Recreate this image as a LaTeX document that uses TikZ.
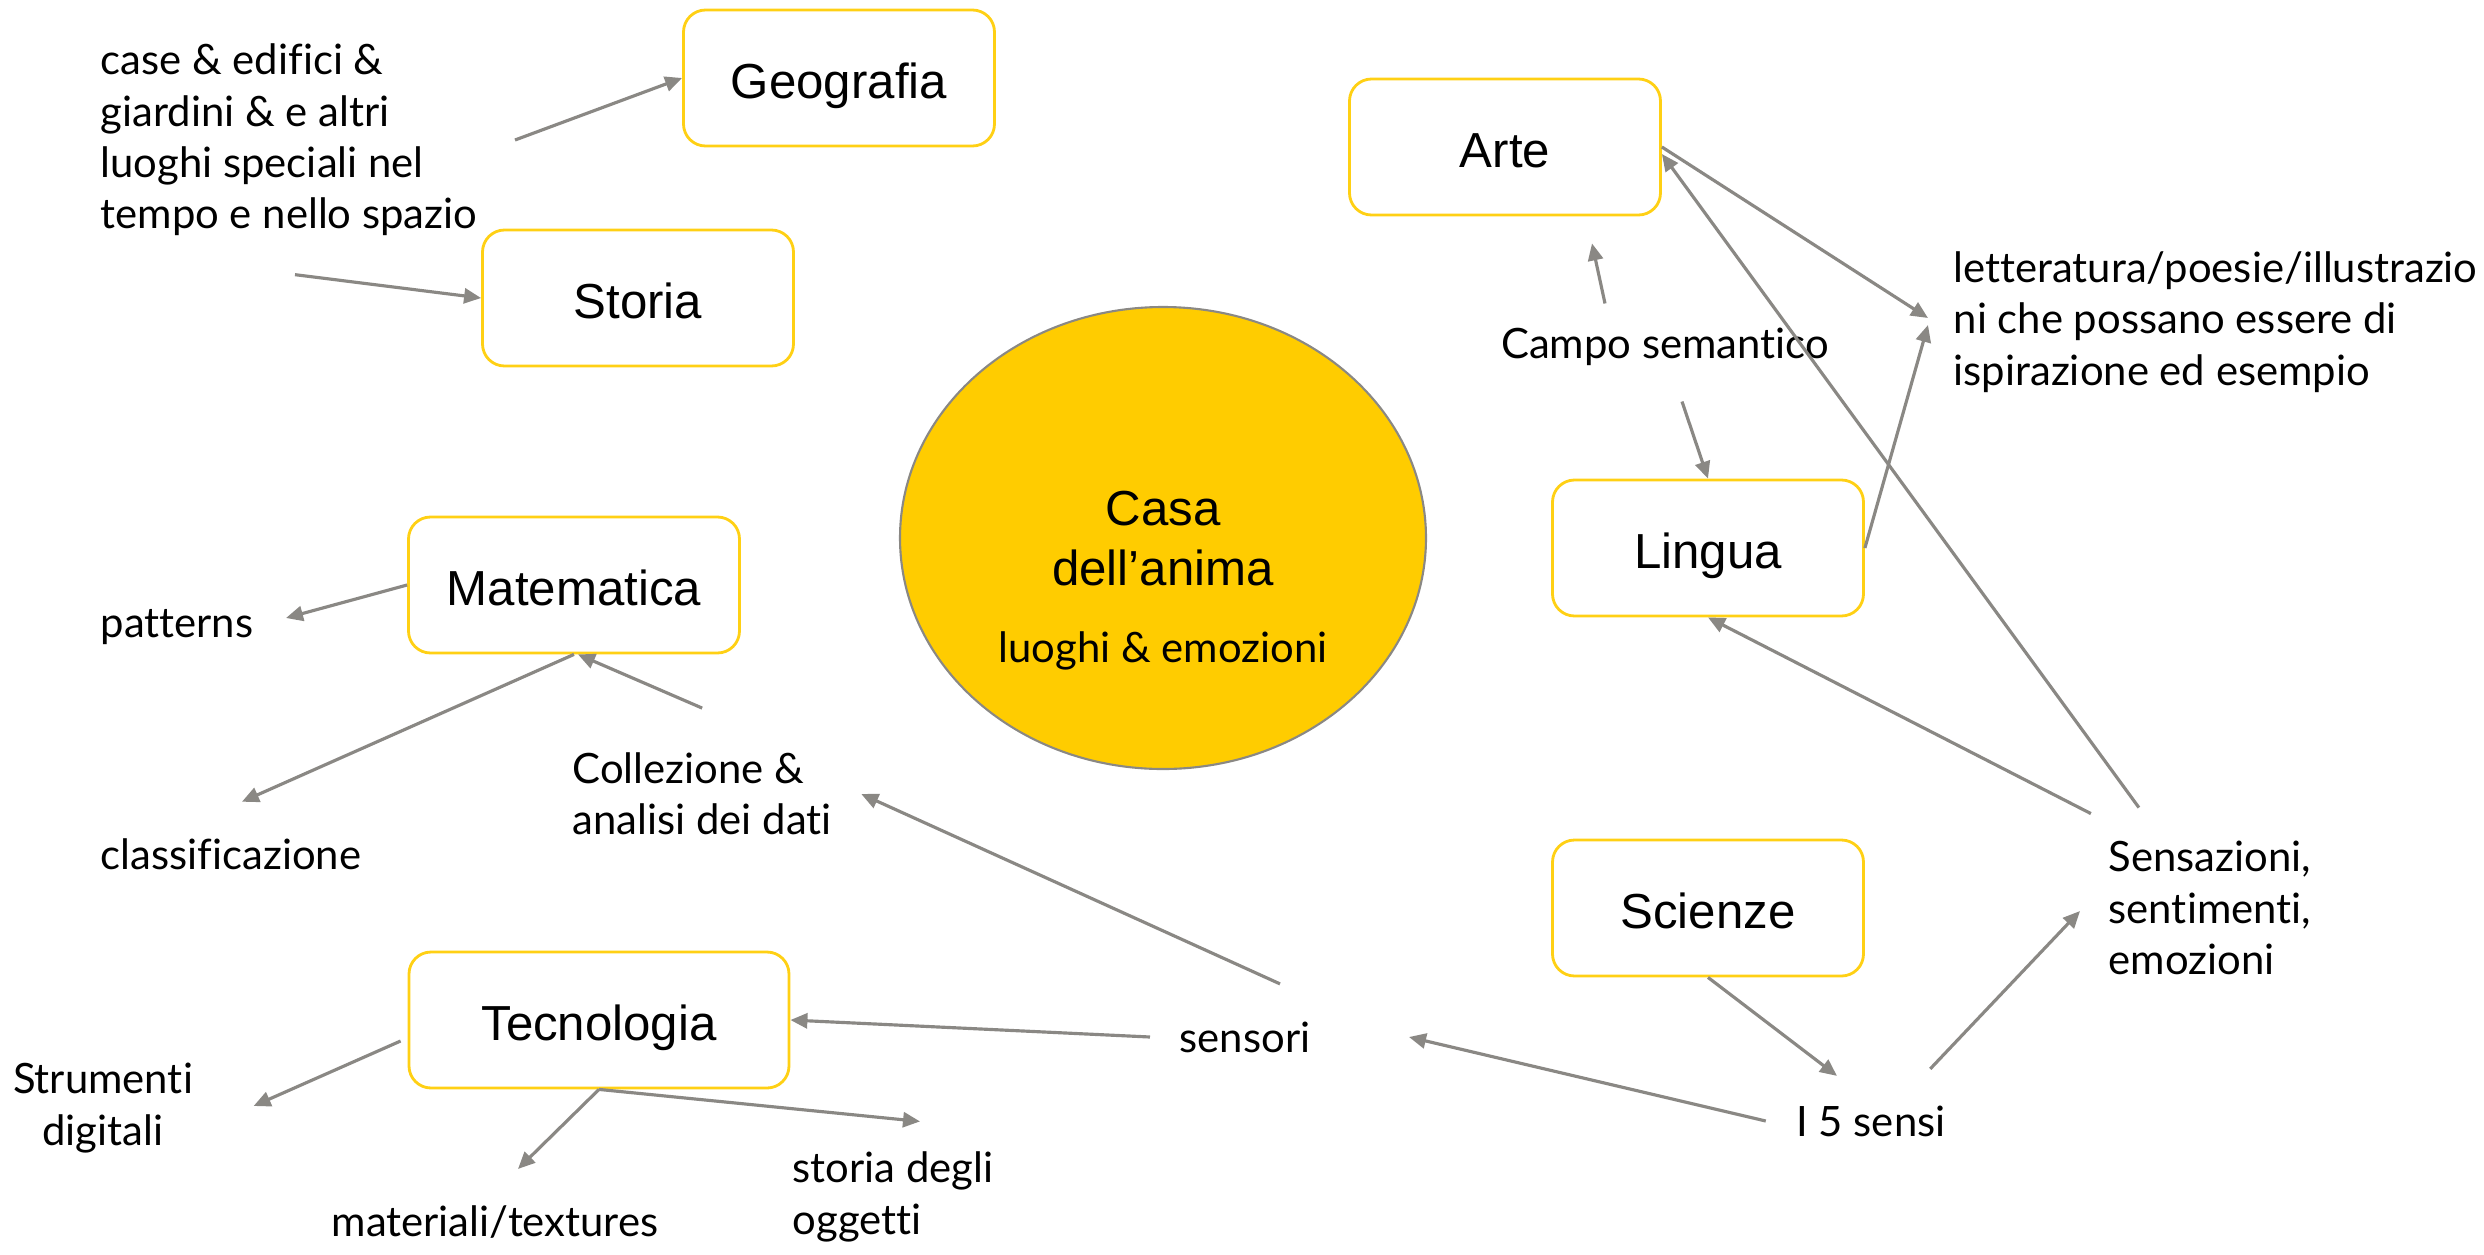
\documentclass[tikz,border=0pt]{standalone}
\usepackage{fontspec}
\setmainfont[Ligatures={TeX,NoCommon}]{Lato}
\newfontfamily\arialfont{Liberation Sans}
\usepackage{xcolor}
\usepackage{tikz}
\usetikzlibrary{arrows.meta}
\usetikzlibrary{shapes.geometric}
\definecolor{boxyellow}{RGB}{255,208,20}
\definecolor{hubyellow}{RGB}{255,204,0}
\definecolor{linkgrey}{RGB}{138,136,132}
\tikzstyle{topicnode}=[black, draw=boxyellow, line width=0.8pt, shape=rectangle, rounded corners=0.22cm, fill=white, minimum width=3.11cm, minimum height=1.36cm, text height=11.6pt, text depth=0pt, font=\arialfont\fontsize{14}{17}\selectfont]
\tikzstyle{hubnode}=[draw=linkgrey, line width=0.6pt, shape=ellipse, fill=hubyellow, minimum width=5.26cm, minimum height=4.62cm]
\tikzstyle{notenode}=[black, inner sep=0pt, font=\fontsize{11.9}{14.6}\selectfont]
\tikzstyle{link}=[-{Stealth[length=0.17cm, width=0.15cm, inset=0pt]}, line width=0.9pt, color=linkgrey]

\begin{document}
\begin{tikzpicture}
\useasboundingbox (0,0) rectangle (24.84,-12.55);
\node [hubnode] (casa) at (11.63,-5.38) {};
\node [align=center, font=\arialfont\fontsize{14}{17}\selectfont] (casalabel) at (11.63,-5.81) {Casa\\dell’anima\\[5pt]{\normalfont\fontsize{11.9}{14}\selectfont luoghi \& emozioni}};

\node [topicnode] (geo) at (8.39,-0.78) {Geografia};
\node [topicnode] (arte) at (15.05,-1.47) {Arte};
\node [topicnode] (storia) at (6.38,-2.98) {Storia};
\node [topicnode, minimum width=3.31cm] (mat) at (5.74,-5.85) {Matematica};
\node [topicnode] (lingua) at (17.08,-5.48) {Lingua};
\node [topicnode] (scienze) at (17.08,-9.08) {Scienze};
\node [topicnode, minimum width=3.8cm] (tecno) at (5.99,-10.20) {Tecnologia};

\node [notenode, anchor=west, align=left] (case) at (1.00,-1.40) {case \& edifici \&\\giardini \& e altri\\luoghi speciali nel\\tempo e nello spazio};
\node [notenode] (campo) at (16.65,-3.47) {Campo semantico};
\node [notenode, anchor=west, align=left] (lett) at (19.53,-3.22) {letteratura/poesie/illustrazio\\ni che possano essere di\\ispirazione ed esempio};
\node [notenode, anchor=west] (patterns) at (1.00,-6.27) {patterns};
\node [notenode, anchor=west] (classif) at (1.00,-8.54) {classificazione};
\node [notenode, anchor=west, align=left] (collez) at (5.72,-7.94) {Collezione \&\\analisi dei dati};
\node [notenode, anchor=west, align=left] (sensaz) at (21.08,-9.08) {Sensazioni,\\sentimenti,\\emozioni};
\node [notenode] (sensori) at (12.45,-10.37) {sensori};
\node [notenode, align=center] (strumenti) at (1.03,-11.08) {Strumenti\\digitali};
\node [notenode] (materiali) at (4.95,-12.22) {materiali/textures};
\node [notenode, anchor=west, align=left] (storiaog) at (7.92,-11.97) {storia degli\\oggetti};
\node [notenode] (cinque) at (18.71,-11.21) {I 5 sensi};

\draw[link] ([xshift=3.7mm]case.east) -- (geo.west);
\draw[link] ([xshift=0.6mm,yshift=-3.8mm]case.south) -- (storia.west);
\draw[link] ([xshift=-6mm,yshift=2.4mm]campo.north) -- ([xshift=8.7mm,yshift=-2.7mm]arte.south);
\draw[link] ([xshift=1.7mm,yshift=-3.5mm]campo.south) -- (lingua.north);
\draw[link] (arte.east) -- ([xshift=-2.5mm,yshift=0.4mm]lett.west);
\draw[link] (lingua.east) -- ([xshift=-2.5mm,yshift=-0.3mm]lett.west);
\draw[link] ([xshift=-7.1mm,yshift=3.3mm]sensaz.north) -- ([yshift=-0.7mm]arte.east);
\draw[link] ([xshift=-11.9mm,yshift=2.7mm]sensaz.north) -- (lingua.south);
\draw[link] ([xshift=-1.6mm,yshift=3.6mm]cinque.north east) -- ([xshift=-2.8mm,yshift=-0.3mm]sensaz.west);
\draw[link] (scienze.south) -- ([xshift=-3.4mm,yshift=2.9mm]cinque.north);
\draw[link] ([xshift=-3mm]cinque.west) -- ([xshift=9.8mm]sensori.east);
\draw[link] ([xshift=-2.9mm]sensori.west) -- (tecno.east);
\draw[link] ([xshift=3.5mm,yshift=3.7mm]sensori.north) -- ([xshift=2.9mm]collez.east);
\draw[link] ([yshift=4.4mm]collez.north) -- ([xshift=0.4mm]mat.south);
\draw[link] (mat.south) -- ([xshift=1.1mm,yshift=3.6mm]classif.north);
\draw[link] (mat.west) -- ([xshift=3.2mm,yshift=0.9mm]patterns.east);
\draw[link] ([xshift=-0.7mm,yshift=-2.1mm]tecno.west) -- ([xshift=6mm,yshift=0.2mm]strumenti.east);
\draw[link] (tecno.south) -- ([xshift=2.3mm,yshift=3.6mm]materiali.north);
\draw[link] (tecno.south) -- ([xshift=2.7mm,yshift=3.0mm]storiaog.north);
\end{tikzpicture}
\end{document}
